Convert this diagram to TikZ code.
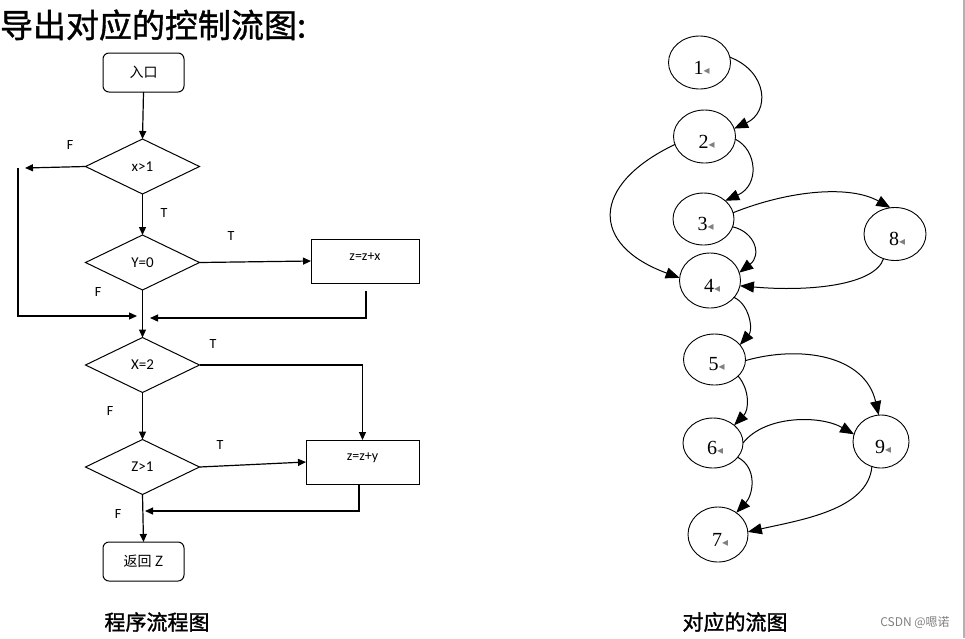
\documentclass[tikz,border=0pt]{standalone}
\usepackage{fontspec}
\setmainfont{Carlito}
\newfontfamily\cjk{Noto Sans CJK SC}
\newfontfamily\cjkb[FakeBold=1.5]{Noto Sans CJK SC}
\newfontfamily\cjkt[FakeBold=1.2]{Noto Sans CJK SC}
\newfontfamily\numfont{Liberation Serif}
\newfontfamily\symfont{DejaVu Sans}
\usetikzlibrary{shapes.geometric,arrows.meta}
\newcommand\tmark{{\symfont\fontsize{12}{12}\selectfont\color{gray}◂}}
\begin{document}
\begin{tikzpicture}[x=1pt,y=-1pt,
  every node/.style={inner sep=0pt,outer sep=0pt},
  flow/.style={line width=1.2pt},
  farr/.style={flow,-{Triangle[length=8pt,width=7pt]}},
  termbox/.style={draw,line width=1pt,rounded corners=6pt,minimum width=81pt,minimum height=39pt,font=\cjk\fontsize{14}{16}\selectfont},
  decision/.style={draw,diamond,line width=1pt,minimum width=114pt,minimum height=55pt,font=\fontsize{15}{18}\selectfont},
  procbox/.style={draw,line width=1pt,minimum height=44pt},
  boxlab/.style={yshift=4pt,font=\fontsize{14}{16}\selectfont},
  tflab/.style={font=\fontsize{14}{16}\selectfont},
  vtx/.style={draw,ellipse,line width=0.9pt,minimum width=62pt,minimum height=53pt},
  numlab/.style={yshift=-5pt,xshift=2pt,font=\numfont\fontsize{20}{22}\selectfont},
  garr/.style={line width=1pt,-{Triangle[length=14pt,width=11pt]}}
]
\path[use as bounding box] (0,0) rectangle (965,638);
\fill[white] (0,0) rectangle (965,638);

% title
\node[anchor=west,font=\cjkt\fontsize{33}{38}\selectfont] (title) at (0,25) {导出对应的控制流图:};

% ---------- flowchart ----------
\node[termbox] (in) at (143.5,72.5) {入口};
\node[decision] (d1) at (142.5,166.5) {x>1};
\node[decision] (d2) at (142.5,262.5) {Y=0};
\node[decision] (d3) at (142.5,365) {X=2};
\node[decision] (d4) at (142.5,467) {Z>1};
\node[termbox] (ret) at (143.5,561.5) {返回 Z};
\node[procbox,minimum width=108pt,label={[boxlab]center:z=z+x}] (b1) at (365,261) {};
\node[procbox,minimum width=113pt,label={[boxlab]center:z=z+y}] (b2) at (362.5,462) {};

\draw[farr] (in.south) -- (d1.north);
\coordinate (fL) at (25,168);
\draw[farr] (d1.west) -- (fL);
\coordinate (fA) at (18,168);
\coordinate (fB) at (18,316);
\coordinate (fC) at (137,316);
\draw[farr] (fA) -- (fB) -- (fC);
\draw[farr] (d1.south) -- (d2.north);
\draw[farr] (d2.east) -- (b1.west);
\coordinate (rA) at (366,291);
\coordinate (rB) at (366,318);
\coordinate (rC) at (150,318);
\draw[farr] (rA) -- (rB) -- (rC);
\draw[farr] (d2.south) -- (d3.north);
\draw[farr] (d3.east) -| (b2.north);
\draw[farr] (d3.south) -- (d4.north);
\draw[farr] (d4.east) -- (b2.west);
\coordinate (sA) at (359,511);
\coordinate (sC) at (145,511);
\draw[farr] (b2.south -| sA) -- (sA) -- (sC);
\draw[farr] (d4.south) -- (ret.north);

\node[tflab] (lf1) at (70,145) {F};
\node[tflab] (lt1) at (164,213) {T};
\node[tflab] (lt2) at (231,236) {T};
\node[tflab] (lf2) at (98,292) {F};
\node[tflab] (lt3) at (213,344) {T};
\node[tflab] (lf3) at (110,411) {F};
\node[tflab] (lt4) at (220,445) {T};
\node[tflab] (lf4) at (118,514) {F};

% ---------- flow graph ----------
\node[vtx,label={[numlab]center:{1\tmark}}] (n1) at (699.5,62.5) {};
\node[vtx,label={[numlab]center:{2\tmark}}] (n2) at (704.5,136.5) {};
\node[vtx,minimum width=61pt,minimum height=52pt,label={[numlab]center:{3\tmark}}] (n3) at (703.5,219) {};
\node[vtx,minimum width=61pt,minimum height=55pt,label={[numlab]center:{4\tmark}}] (n4) at (710,280.5) {};
\node[vtx,label={[numlab]center:{8\tmark}}] (n8) at (895,234) {};
\node[vtx,minimum height=51pt,label={[numlab]center:{5\tmark}}] (n5) at (714.5,359.5) {};
\node[vtx,minimum width=60pt,minimum height=50pt,label={[numlab]center:{6\tmark}}] (n6) at (713,443) {};
\node[vtx,minimum width=56pt,label={[numlab]center:{9\tmark}}] (n9) at (881,441.5) {};
\node[vtx,minimum width=60pt,minimum height=55pt,label={[numlab]center:{7\tmark}}] (n7) at (718,534.5) {};

\draw[garr] (n1.10) .. controls (768,72) and (770,112) .. (n2.15);
\draw[garr] (n2.-5) .. controls (757,150) and (760,185) .. (n3.40);
\draw[garr] (n2.195) .. controls (590,185) and (590,245) .. (n4.175);
\draw[garr] (n3.12) .. controls (790,190) and (850,185) .. (n8.100);
\draw[garr] (n3.-15) .. controls (755,232) and (762,255) .. (n4.15);
\draw[garr] (n8.-115) .. controls (875,285) and (810,292) .. (n4.-10);
\draw[garr] (n4.-35) .. controls (750,305) and (753,330) .. (n5.30);
\draw[garr] (n5.-2) .. controls (800,345) and (865,355) .. (n9.95);
\draw[garr] (n5.-35) .. controls (750,390) and (749,410) .. (n6.40);
\draw[garr] (n6.0) .. controls (765,415) and (820,415) .. (n9.165);
\draw[garr] (n6.-30) .. controls (758,468) and (753,495) .. (n7.50);
\draw[garr] (n9.-110) .. controls (868,510) and (800,520) .. (n7.5);

% captions
\node[font=\cjkb\fontsize{21}{24}\selectfont] (cap1) at (157,622) {程序流程图};
\node[font=\cjkb\fontsize{21}{24}\selectfont] (cap2) at (735,622) {对应的流图};
\node[font=\cjk\fontsize{12}{14}\selectfont,text=gray] (wm) at (915,622) {CSDN @嗯诺};
\draw[gray!60,line width=1.5pt] (964,0) -- (964,638);
\end{tikzpicture}
\end{document}
